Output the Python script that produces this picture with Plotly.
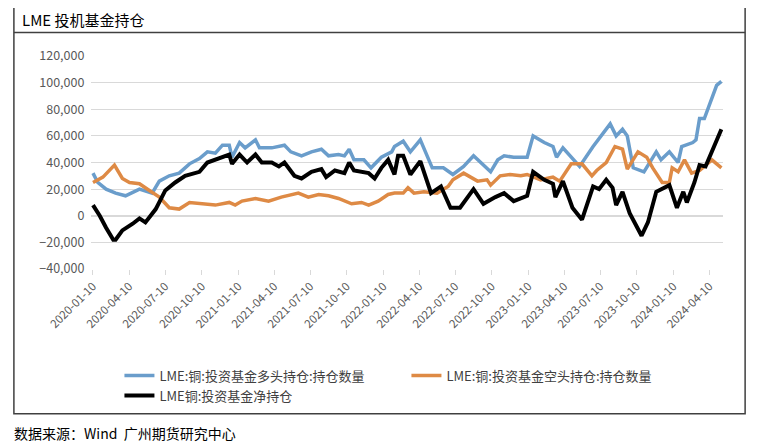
import plotly.graph_objects as go

# LME copper investment funds positions, values in thousand lots
long_dates = [
    "2020-01-10", "2020-01-22", "2020-02-12", "2020-03-07", "2020-04-01", "2020-05-06", "2020-06-07",
    "2020-06-25", "2020-07-20", "2020-08-14", "2020-09-09", "2020-10-04", "2020-10-24", "2020-11-13",
    "2020-12-01", "2020-12-18", "2020-12-25", "2021-01-13", "2021-01-27", "2021-02-22", "2021-03-04",
    "2021-04-04", "2021-05-06", "2021-05-22", "2021-06-18", "2021-07-13", "2021-08-07", "2021-08-25",
    "2021-09-19", "2021-10-04", "2021-10-16", "2021-10-28", "2021-11-22", "2021-12-10", "2022-01-05",
    "2022-01-31", "2022-02-07", "2022-03-01", "2022-03-19", "2022-04-13", "2022-05-13", "2022-06-10",
    "2022-07-04", "2022-07-31", "2022-08-25", "2022-10-07", "2022-10-25", "2022-11-10", "2022-12-04",
    "2023-01-07", "2023-01-22", "2023-02-19", "2023-03-13", "2023-03-22", "2023-04-07", "2023-05-19",
    "2023-06-22", "2023-07-13", "2023-08-04", "2023-08-19", "2023-09-04", "2023-09-16", "2023-10-01",
    "2023-10-28", "2023-11-28", "2023-12-10", "2023-12-31", "2024-01-22", "2024-01-31", "2024-02-28",
    "2024-03-07", "2024-03-16", "2024-03-28", "2024-04-28", "2024-05-10",
]
long_vals = [
    32, 25, 20, 17, 15, 20, 17, 26, 30, 32, 39, 43, 48, 47, 53, 53, 44, 55, 51, 57, 51,
    51, 53, 48, 45, 48, 50, 45, 46, 45, 50, 42, 42, 36, 44, 48, 52, 56, 48, 57, 36, 36,
    31, 37, 45, 33, 42, 45, 44, 44, 60, 55, 52, 44, 51, 37, 52, 60, 69, 60, 65, 60, 36,
    33, 48, 42, 48, 40, 52, 55, 57, 73, 73, 98, 101,
]

short_dates = [
    "2020-01-10", "2020-02-04", "2020-03-04", "2020-03-24", "2020-04-11", "2020-05-06", "2020-05-31",
    "2020-06-25", "2020-07-20", "2020-08-14", "2020-09-09", "2020-10-11", "2020-11-13", "2020-12-18",
    "2021-01-02", "2021-01-19", "2021-02-22", "2021-03-27", "2021-04-28", "2021-06-10", "2021-07-05",
    "2021-07-31", "2021-08-25", "2021-09-19", "2021-10-22", "2021-11-16", "2021-12-04", "2021-12-28",
    "2022-01-22", "2022-02-07", "2022-03-01", "2022-03-13", "2022-03-28", "2022-04-22", "2022-05-25",
    "2022-06-22", "2022-07-04", "2022-07-31", "2022-09-04", "2022-09-28", "2022-10-07", "2022-10-31",
    "2022-11-25", "2022-12-22", "2023-01-07", "2023-02-10", "2023-03-13", "2023-03-30", "2023-04-28",
    "2023-05-25", "2023-06-19", "2023-07-01", "2023-07-25", "2023-08-16", "2023-09-04", "2023-09-16",
    "2023-10-13", "2023-11-04", "2023-11-19", "2023-12-13", "2023-12-31", "2024-01-07", "2024-01-22",
    "2024-02-07", "2024-02-25", "2024-03-16", "2024-04-16", "2024-05-10",
]
short_vals = [
    25, 29, 38, 28, 25, 24, 19, 14, 6, 5, 10, 9, 8, 10, 8, 11, 13, 11, 14, 17, 14,
    16, 15, 13, 9, 10, 8, 11, 16, 17, 17, 21, 17, 18, 17, 22, 27, 32, 26, 27, 23, 30,
    31, 30, 31, 27, 29, 26, 39, 39, 30, 34, 40, 52, 50, 35, 48, 44, 36, 25, 25, 36, 33,
    42, 32, 34, 42, 36,
]

net_dates = [
    "2020-01-10", "2020-01-27", "2020-02-12", "2020-03-01", "2020-03-07", "2020-03-24", "2020-04-19",
    "2020-05-06", "2020-05-21", "2020-06-16", "2020-07-10", "2020-08-04", "2020-08-29", "2020-10-04",
    "2020-10-24", "2020-11-22", "2020-12-18", "2020-12-25", "2021-01-13", "2021-02-01", "2021-02-22",
    "2021-03-10", "2021-04-04", "2021-04-22", "2021-05-06", "2021-05-31", "2021-06-18", "2021-07-13",
    "2021-08-07", "2021-08-19", "2021-09-10", "2021-10-04", "2021-10-16", "2021-10-28", "2021-12-04",
    "2021-12-19", "2022-01-05", "2022-01-22", "2022-02-07", "2022-02-16", "2022-03-01", "2022-03-19",
    "2022-04-13", "2022-05-10", "2022-06-04", "2022-06-28", "2022-07-22", "2022-08-25", "2022-09-19",
    "2022-10-19", "2022-11-10", "2022-12-04", "2023-01-07", "2023-01-22", "2023-02-19", "2023-03-13",
    "2023-03-19", "2023-04-07", "2023-05-01", "2023-05-25", "2023-06-22", "2023-07-07", "2023-07-25",
    "2023-08-10", "2023-08-19", "2023-09-04", "2023-09-22", "2023-10-22", "2023-11-07", "2023-11-28",
    "2023-12-31", "2024-01-19", "2024-02-04", "2024-02-13", "2024-03-03", "2024-03-16", "2024-03-31",
    "2024-05-10",
]
net_vals = [
    8, 0, -9, -18, -18, -11, -6, -2, -5, 5, 19, 25, 30, 33, 40, 43, 46, 39, 46, 40, 46,
    40, 40, 37, 40, 30, 28, 33, 35, 29, 34, 32, 40, 34, 32, 28, 36, 42, 31, 45, 45, 31,
    41, 17, 22, 6, 6, 20, 9, 14, 17, 11, 15, 33, 27, 24, 14, 26, 6, -3, 22, 20, 27, 21,
    8, 18, 2, -15, -5, 18, 23, 6, 18, 10, 25, 38, 37, 65,
]

tick_dates = [
    "2020-01-10", "2020-04-10", "2020-07-10", "2020-10-10", "2021-01-10", "2021-04-10", "2021-07-10",
    "2021-10-10", "2022-01-10", "2022-04-10", "2022-07-10", "2022-10-10", "2023-01-10", "2023-04-10",
    "2023-07-10", "2023-10-10", "2024-01-10", "2024-04-10",
]

FONT = "Noto Sans CJK SC"

fig = go.Figure()
fig.add_trace(go.Scatter(x=long_dates, y=[v * 1000 for v in long_vals], mode="lines",
                         name="LME:铜:投资基金多头持仓:持仓数量", line=dict(color="#6a9dcb", width=3.5)))
fig.add_trace(go.Scatter(x=short_dates, y=[v * 1000 for v in short_vals], mode="lines",
                         name="LME:铜:投资基金空头持仓:持仓数量", line=dict(color="#de8a45", width=3.5)))
fig.add_trace(go.Scatter(x=net_dates, y=[v * 1000 for v in net_vals], mode="lines",
                         name="LME铜:投资基金净持仓", line=dict(color="#000000", width=4)))

fig.update_layout(
    width=759, height=448,
    margin=dict(l=83, r=44, t=48, b=187),
    paper_bgcolor="white", plot_bgcolor="white",
    font=dict(family=FONT, color="#595959", size=12),
    showlegend=True,
    legend=dict(orientation="h", x=0.045, y=-0.43, xanchor="left", yanchor="top",
                entrywidth=242, font=dict(size=13, color="#404040"), tracegroupgap=0),
    xaxis=dict(type="date", range=["2020-01-05", "2024-05-14"], tickvals=tick_dates,
               tickformat="%Y-%m-%d", tickangle=-45, showgrid=False, ticks="outside",
               ticklen=5, tickcolor="#d9d9d9", tickfont=dict(size=11.5, color="#595959"),
               showline=False),
    yaxis=dict(range=[-40000, 120000], dtick=20000, tickformat=",", gridcolor="#d9d9d9",
               zeroline=True, zerolinecolor="#d9d9d9", tickfont=dict(size=12.5, color="#595959"),
               ticksuffix="  "),
    shapes=[
        dict(type="rect", xref="paper", yref="paper", x0=-0.122, x1=1.035, y0=-0.68, y1=1.235,
             line=dict(color="#404040", width=1.5)),
        dict(type="line", xref="paper", yref="paper", x0=-0.122, x1=1.035, y0=1.11, y1=1.11,
             line=dict(color="#404040", width=1.5)),
    ],
    annotations=[
        dict(text="LME 投机基金持仓", xref="paper", yref="paper", x=-0.112, y=1.172,
             xanchor="left", yanchor="middle", showarrow=False, font=dict(size=15, color="#000000")),
        dict(text="数据来源：Wind  广州期货研究中心", xref="paper", yref="paper", x=-0.125, y=-0.77,
             xanchor="left", yanchor="middle", showarrow=False, font=dict(size=14, color="#000000")),
    ],
)

fig.write_html("out.html")
